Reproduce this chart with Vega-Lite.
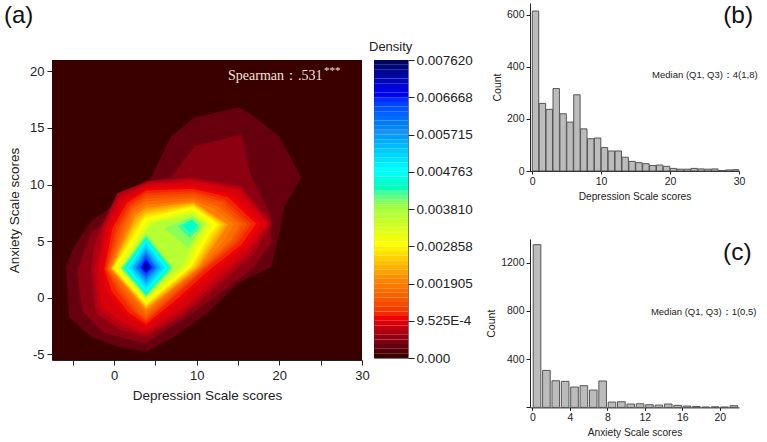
{"$schema":"https://vega.github.io/schema/vega-lite/v6.json","padding":{"left":3,"top":3,"right":0,"bottom":0},"background":"white","bounds":"flush","spacing":478,
"config":{"view":{"stroke":null},"font":"Liberation Sans","axis":{"grid":false,"domainColor":"#222","tickColor":"#222","labelColor":"#222","titleColor":"#222","titleFontWeight":"normal","labelFont":"Liberation Sans","titleFont":"Liberation Sans"}},
"datasets":{"contours":[
{"ring":0,"level":0,"v":1,"x":-7.5,"y":-5.5},{"ring":0,"level":0,"v":2,"x":30,"y":-5.5},{"ring":0,"level":0,"v":3,"x":30,"y":21},{"ring":0,"level":0,"v":4,"x":-7.5,"y":21},
{"ring":1,"level":0.00025,"v":1,"x":-5.82,"y":2.74},{"ring":1,"level":0.00025,"v":2,"x":-4.85,"y":4.51},{"ring":1,"level":0.00025,"v":3,"x":-2.79,"y":6.73},{"ring":1,"level":0.00025,"v":4,"x":0.48,"y":8.41},{"ring":1,"level":0.00025,"v":5,"x":3.64,"y":10.18},{"ring":1,"level":0.00025,"v":6,"x":4.48,"y":10.62},{"ring":1,"level":0.00025,"v":7,"x":6.91,"y":14.25},{"ring":1,"level":0.00025,"v":8,"x":9.7,"y":15.93},{"ring":1,"level":0.00025,"v":9,"x":15.03,"y":16.81},{"ring":1,"level":0.00025,"v":10,"x":16.61,"y":16.19},{"ring":1,"level":0.00025,"v":11,"x":20,"y":14.25},{"ring":1,"level":0.00025,"v":12,"x":22.67,"y":10.62},{"ring":1,"level":0.00025,"v":13,"x":20.61,"y":8.05},{"ring":1,"level":0.00025,"v":14,"x":20,"y":5.75},{"ring":1,"level":0.00025,"v":15,"x":19.03,"y":2.74},{"ring":1,"level":0.00025,"v":16,"x":17.58,"y":2.21},{"ring":1,"level":0.00025,"v":17,"x":15.03,"y":1.33},{"ring":1,"level":0.00025,"v":18,"x":11.39,"y":-1.33},{"ring":1,"level":0.00025,"v":19,"x":7.27,"y":-3.45},{"ring":1,"level":0.00025,"v":20,"x":3.88,"y":-4.78},{"ring":1,"level":0.00025,"v":21,"x":0.48,"y":-4.34},{"ring":1,"level":0.00025,"v":22,"x":-2.79,"y":-3.45},{"ring":1,"level":0.00025,"v":23,"x":-5.45,"y":-1.68},
{"ring":2,"level":0.00045,"v":1,"x":-4.41,"y":2.48},{"ring":2,"level":0.00045,"v":2,"x":-4.2,"y":0.71},{"ring":2,"level":0.00045,"v":3,"x":-3.8,"y":-1.21},{"ring":2,"level":0.00045,"v":4,"x":-1.17,"y":-3.13},{"ring":2,"level":0.00045,"v":5,"x":3.88,"y":-4.02},{"ring":2,"level":0.00045,"v":6,"x":6.91,"y":-2.54},{"ring":2,"level":0.00045,"v":7,"x":10.14,"y":-1.07},{"ring":2,"level":0.00045,"v":8,"x":14.99,"y":1.59},{"ring":2,"level":0.00045,"v":9,"x":17,"y":2.77},{"ring":2,"level":0.00045,"v":10,"x":19.03,"y":4.83},{"ring":2,"level":0.00045,"v":11,"x":19.03,"y":7.2},{"ring":2,"level":0.00045,"v":12,"x":16.6,"y":10.74},{"ring":2,"level":0.00045,"v":13,"x":15.39,"y":14.42},{"ring":2,"level":0.00045,"v":14,"x":9.73,"y":13.39},{"ring":2,"level":0.00045,"v":15,"x":6.91,"y":10.59},{"ring":2,"level":0.00045,"v":16,"x":4.08,"y":10.29},{"ring":2,"level":0.00045,"v":17,"x":-1.17,"y":6.6},{"ring":2,"level":0.00045,"v":18,"x":-2.79,"y":5.72},
{"ring":3,"level":0.00062,"v":1,"x":-2.79,"y":2.48},{"ring":3,"level":0.00062,"v":2,"x":-2.18,"y":-1.36},{"ring":3,"level":0.00062,"v":3,"x":0.85,"y":-2.84},{"ring":3,"level":0.00062,"v":4,"x":3.88,"y":-3.43},{"ring":3,"level":0.00062,"v":5,"x":8.12,"y":-1.66},{"ring":3,"level":0.00062,"v":6,"x":13.37,"y":1.59},{"ring":3,"level":0.00062,"v":7,"x":17,"y":3.95},{"ring":3,"level":0.00062,"v":8,"x":19.03,"y":6.6},{"ring":3,"level":0.00062,"v":9,"x":15.39,"y":9.85},{"ring":3,"level":0.00062,"v":10,"x":9.53,"y":10.59},{"ring":3,"level":0.00062,"v":11,"x":4.08,"y":10.29},{"ring":3,"level":0.00062,"v":12,"x":0.44,"y":9.26},{"ring":3,"level":0.00062,"v":13,"x":-1.38,"y":6.46},{"ring":3,"level":0.00062,"v":14,"x":-2.38,"y":4.54},
{"ring":3.5,"level":0.00072,"v":1,"x":-2.38,"y":2.48},{"ring":3.5,"level":0.00072,"v":2,"x":-1.88,"y":-1.06},{"ring":3.5,"level":0.00072,"v":3,"x":1.05,"y":-2.54},{"ring":3.5,"level":0.00072,"v":4,"x":3.88,"y":-3.2},{"ring":3.5,"level":0.00072,"v":5,"x":8.12,"y":-1.36},{"ring":3.5,"level":0.00072,"v":6,"x":12.96,"y":1.74},{"ring":3.5,"level":0.00072,"v":7,"x":16.6,"y":4.1},{"ring":3.5,"level":0.00072,"v":8,"x":18.82,"y":6.57},{"ring":3.5,"level":0.00072,"v":9,"x":15.19,"y":9.7},{"ring":3.5,"level":0.00072,"v":10,"x":9.53,"y":10.44},{"ring":3.5,"level":0.00072,"v":11,"x":4.08,"y":10.15},{"ring":3.5,"level":0.00072,"v":12,"x":0.65,"y":9.04},{"ring":3.5,"level":0.00072,"v":13,"x":-1.17,"y":6.38},
{"ring":4,"level":0.00083,"v":1,"x":-1.98,"y":2.48},{"ring":4,"level":0.00083,"v":2,"x":-1.58,"y":-0.77},{"ring":4,"level":0.00083,"v":3,"x":1.25,"y":-2.25},{"ring":4,"level":0.00083,"v":4,"x":3.88,"y":-2.98},{"ring":4,"level":0.00083,"v":5,"x":8.12,"y":-1.07},{"ring":4,"level":0.00083,"v":6,"x":12.56,"y":1.89},{"ring":4,"level":0.00083,"v":7,"x":16.2,"y":4.25},{"ring":4,"level":0.00083,"v":8,"x":18.62,"y":6.55},{"ring":4,"level":0.00083,"v":9,"x":14.99,"y":9.56},{"ring":4,"level":0.00083,"v":10,"x":9.53,"y":10.29},{"ring":4,"level":0.00083,"v":11,"x":4.08,"y":10},{"ring":4,"level":0.00083,"v":12,"x":0.85,"y":8.82},{"ring":4,"level":0.00083,"v":13,"x":-0.97,"y":6.31},
{"ring":5,"level":0.00095,"v":1,"x":-1.38,"y":2.53},{"ring":5,"level":0.00095,"v":2,"x":-0.77,"y":0.41},{"ring":5,"level":0.00095,"v":3,"x":1.65,"y":-1.66},{"ring":5,"level":0.00095,"v":4,"x":3.88,"y":-2.54},{"ring":5,"level":0.00095,"v":5,"x":7.71,"y":-0.48},{"ring":5,"level":0.00095,"v":6,"x":11.75,"y":2.18},{"ring":5,"level":0.00095,"v":7,"x":15.79,"y":4.54},{"ring":5,"level":0.00095,"v":8,"x":17.81,"y":6.55},{"ring":5,"level":0.00095,"v":9,"x":14.18,"y":9.11},{"ring":5,"level":0.00095,"v":10,"x":9.53,"y":9.85},{"ring":5,"level":0.00095,"v":11,"x":3.88,"y":9.7},{"ring":5,"level":0.00095,"v":12,"x":1.25,"y":8.52},{"ring":5,"level":0.00095,"v":13,"x":-0.57,"y":6.16},
{"ring":5.5,"level":0.00107,"v":1,"x":-1.17,"y":2.53},{"ring":5.5,"level":0.00107,"v":2,"x":-0.27,"y":0.56},{"ring":5.5,"level":0.00107,"v":3,"x":1.85,"y":-1.36},{"ring":5.5,"level":0.00107,"v":4,"x":3.88,"y":-2.32},{"ring":5.5,"level":0.00107,"v":5,"x":7.51,"y":-0.18},{"ring":5.5,"level":0.00107,"v":6,"x":11.35,"y":2.33},{"ring":5.5,"level":0.00107,"v":7,"x":15.39,"y":4.68},{"ring":5.5,"level":0.00107,"v":8,"x":17.2,"y":6.53},{"ring":5.5,"level":0.00107,"v":9,"x":13.77,"y":8.89},{"ring":5.5,"level":0.00107,"v":10,"x":9.57,"y":9.63},{"ring":5.5,"level":0.00107,"v":11,"x":3.88,"y":9.48},{"ring":5.5,"level":0.00107,"v":12,"x":1.55,"y":8.37},{"ring":5.5,"level":0.00107,"v":13,"x":-0.17,"y":6.16},
{"ring":6,"level":0.0012,"v":1,"x":-0.97,"y":2.53},{"ring":6,"level":0.0012,"v":2,"x":0.24,"y":0.71},{"ring":6,"level":0.0012,"v":3,"x":2.06,"y":-1.07},{"ring":6,"level":0.0012,"v":4,"x":3.88,"y":-2.1},{"ring":6,"level":0.0012,"v":5,"x":7.31,"y":0.12},{"ring":6,"level":0.0012,"v":6,"x":10.95,"y":2.48},{"ring":6,"level":0.0012,"v":7,"x":14.99,"y":4.83},{"ring":6,"level":0.0012,"v":8,"x":16.6,"y":6.52},{"ring":6,"level":0.0012,"v":9,"x":13.37,"y":8.67},{"ring":6,"level":0.0012,"v":10,"x":9.61,"y":9.41},{"ring":6,"level":0.0012,"v":11,"x":3.88,"y":9.26},{"ring":6,"level":0.0012,"v":12,"x":1.86,"y":8.23},{"ring":6,"level":0.0012,"v":13,"x":0.24,"y":6.16},
{"ring":6.3,"level":0.00135,"v":1,"x":-0.86,"y":2.53},{"ring":6.3,"level":0.00135,"v":2,"x":0.5,"y":0.75},{"ring":6.3,"level":0.00135,"v":3,"x":2.6,"y":-1.2},{"ring":6.3,"level":0.00135,"v":4,"x":3.88,"y":-1.95},{"ring":6.3,"level":0.00135,"v":5,"x":7.25,"y":0.25},{"ring":6.3,"level":0.00135,"v":6,"x":10.8,"y":2.53},{"ring":6.3,"level":0.00135,"v":7,"x":14.7,"y":4.93},{"ring":6.3,"level":0.00135,"v":8,"x":16.1,"y":6.5},{"ring":6.3,"level":0.00135,"v":9,"x":13.1,"y":8.5},{"ring":6.3,"level":0.00135,"v":10,"x":9.61,"y":9.2},{"ring":6.3,"level":0.00135,"v":11,"x":3.88,"y":9},{"ring":6.3,"level":0.00135,"v":12,"x":2,"y":8.05},{"ring":6.3,"level":0.00135,"v":13,"x":0.6,"y":6.2},
{"ring":6.6,"level":0.0015,"v":1,"x":-0.75,"y":2.53},{"ring":6.6,"level":0.0015,"v":2,"x":0.8,"y":0.8},{"ring":6.6,"level":0.0015,"v":3,"x":3.2,"y":-1.4},{"ring":6.6,"level":0.0015,"v":4,"x":3.88,"y":-1.75},{"ring":6.6,"level":0.0015,"v":5,"x":7.2,"y":0.4},{"ring":6.6,"level":0.0015,"v":6,"x":10.7,"y":2.58},{"ring":6.6,"level":0.0015,"v":7,"x":14.4,"y":5.03},{"ring":6.6,"level":0.0015,"v":8,"x":15.6,"y":6.5},{"ring":6.6,"level":0.0015,"v":9,"x":12.8,"y":8.3},{"ring":6.6,"level":0.0015,"v":10,"x":9.61,"y":9},{"ring":6.6,"level":0.0015,"v":11,"x":3.88,"y":8.75},{"ring":6.6,"level":0.0015,"v":12,"x":2.15,"y":7.9},{"ring":6.6,"level":0.0015,"v":13,"x":0.95,"y":6.25},
{"ring":7,"level":0.00167,"v":1,"x":-0.65,"y":2.53},{"ring":7,"level":0.00167,"v":2,"x":1.05,"y":0.85},{"ring":7,"level":0.00167,"v":3,"x":3.88,"y":-1.51},{"ring":7,"level":0.00167,"v":4,"x":7.11,"y":0.56},{"ring":7,"level":0.00167,"v":5,"x":10.54,"y":2.62},{"ring":7,"level":0.00167,"v":6,"x":14.18,"y":5.13},{"ring":7,"level":0.00167,"v":7,"x":15.19,"y":6.49},{"ring":7,"level":0.00167,"v":8,"x":12.56,"y":8.08},{"ring":7,"level":0.00167,"v":9,"x":9.61,"y":8.82},{"ring":7,"level":0.00167,"v":10,"x":3.88,"y":8.52},{"ring":7,"level":0.00167,"v":11,"x":2.26,"y":7.79},{"ring":7,"level":0.00167,"v":12,"x":1.25,"y":6.31},
{"ring":7.5,"level":0.0019,"v":1,"x":-0.5,"y":2.56},{"ring":7.5,"level":0.0019,"v":2,"x":3.88,"y":-1.26},{"ring":7.5,"level":0.0019,"v":3,"x":7,"y":0.7},{"ring":7.5,"level":0.0019,"v":4,"x":10.34,"y":2.62},{"ring":7.5,"level":0.0019,"v":5,"x":13.4,"y":5.13},{"ring":7.5,"level":0.0019,"v":6,"x":14.5,"y":6.49},{"ring":7.5,"level":0.0019,"v":7,"x":12,"y":7.9},{"ring":7.5,"level":0.0019,"v":8,"x":9.61,"y":8.62},{"ring":7.5,"level":0.0019,"v":9,"x":3.88,"y":8.22},{"ring":7.5,"level":0.0019,"v":10,"x":2.46,"y":7.56},{"ring":7.5,"level":0.0019,"v":11,"x":1.55,"y":6.23},
{"ring":8,"level":0.00214,"v":1,"x":-0.37,"y":2.59},{"ring":8,"level":0.00214,"v":2,"x":3.88,"y":-1.01},{"ring":8,"level":0.00214,"v":3,"x":10.14,"y":2.62},{"ring":8,"level":0.00214,"v":4,"x":12.56,"y":5.13},{"ring":8,"level":0.00214,"v":5,"x":13.77,"y":6.49},{"ring":8,"level":0.00214,"v":6,"x":9.61,"y":8.43},{"ring":8,"level":0.00214,"v":7,"x":3.88,"y":7.93},{"ring":8,"level":0.00214,"v":8,"x":2.66,"y":7.34},{"ring":8,"level":0.00214,"v":9,"x":1.86,"y":6.16},
{"ring":8.5,"level":0.00232,"v":1,"x":-0.31,"y":2.59},{"ring":8.5,"level":0.00232,"v":2,"x":3.88,"y":-0.89},{"ring":8.5,"level":0.00232,"v":3,"x":9.93,"y":2.66},{"ring":8.5,"level":0.00232,"v":4,"x":12.36,"y":5.28},{"ring":8.5,"level":0.00232,"v":5,"x":13.47,"y":6.49},{"ring":8.5,"level":0.00232,"v":6,"x":9.61,"y":8.33},{"ring":8.5,"level":0.00232,"v":7,"x":3.88,"y":7.71},{"ring":8.5,"level":0.00232,"v":8,"x":2.66,"y":6.97},
{"ring":9,"level":0.0025,"v":1,"x":-0.25,"y":2.59},{"ring":9,"level":0.0025,"v":2,"x":3.88,"y":-0.77},{"ring":9,"level":0.0025,"v":3,"x":9.73,"y":2.71},{"ring":9,"level":0.0025,"v":4,"x":12.16,"y":5.43},{"ring":9,"level":0.0025,"v":5,"x":13.17,"y":6.49},{"ring":9,"level":0.0025,"v":6,"x":9.61,"y":8.23},{"ring":9,"level":0.0025,"v":7,"x":3.88,"y":7.49},{"ring":9,"level":0.0025,"v":8,"x":2.66,"y":6.6},
{"ring":9.5,"level":0.00268,"v":1,"x":-0.14,"y":2.6},{"ring":9.5,"level":0.00268,"v":2,"x":3.88,"y":-0.66},{"ring":9.5,"level":0.00268,"v":3,"x":9.53,"y":2.74},{"ring":9.5,"level":0.00268,"v":4,"x":11.85,"y":5.5},{"ring":9.5,"level":0.00268,"v":5,"x":12.86,"y":6.49},{"ring":9.5,"level":0.00268,"v":6,"x":9.61,"y":8.12},{"ring":9.5,"level":0.00268,"v":7,"x":3.78,"y":7.27},{"ring":9.5,"level":0.00268,"v":8,"x":2.76,"y":6.3},
{"ring":10,"level":0.00286,"v":1,"x":-0.04,"y":2.62},{"ring":10,"level":0.00286,"v":2,"x":3.88,"y":-0.56},{"ring":10,"level":0.00286,"v":3,"x":9.33,"y":2.77},{"ring":10,"level":0.00286,"v":4,"x":11.55,"y":5.57},{"ring":10,"level":0.00286,"v":5,"x":12.56,"y":6.49},{"ring":10,"level":0.00286,"v":6,"x":9.61,"y":8.02},{"ring":10,"level":0.00286,"v":7,"x":3.67,"y":7.05},{"ring":10,"level":0.00286,"v":8,"x":2.87,"y":6.02},
{"ring":10.5,"level":0.00303,"v":1,"x":0.2,"y":2.62},{"ring":10.5,"level":0.00303,"v":2,"x":3.88,"y":-0.37},{"ring":10.5,"level":0.00303,"v":3,"x":9.02,"y":2.77},{"ring":10.5,"level":0.00303,"v":4,"x":11.25,"y":5.65},{"ring":10.5,"level":0.00303,"v":5,"x":12.05,"y":6.5},{"ring":10.5,"level":0.00303,"v":6,"x":9.57,"y":7.83},{"ring":10.5,"level":0.00303,"v":7,"x":3.97,"y":6.9},{"ring":10.5,"level":0.00303,"v":8,"x":3.38,"y":6.16},
{"ring":11,"level":0.0032,"v":1,"x":0.44,"y":2.62},{"ring":11,"level":0.0032,"v":2,"x":3.88,"y":-0.18},{"ring":11,"level":0.0032,"v":3,"x":8.72,"y":2.77},{"ring":11,"level":0.0032,"v":4,"x":10.95,"y":5.72},{"ring":11,"level":0.0032,"v":5,"x":11.55,"y":6.52},{"ring":11,"level":0.0032,"v":6,"x":9.53,"y":7.64},{"ring":11,"level":0.0032,"v":7,"x":4.28,"y":6.75},{"ring":11,"level":0.0032,"v":8,"x":3.88,"y":6.31},
{"ring":11.5,"level":0.0034,"v":1,"x":0.75,"y":2.62},{"ring":11.5,"level":0.0034,"v":2,"x":3.88,"y":0.04},{"ring":11.5,"level":0.0034,"v":3,"x":8.42,"y":2.77},{"ring":11.5,"level":0.0034,"v":4,"x":10.55,"y":5.72},{"ring":11.5,"level":0.0034,"v":5,"x":11.35,"y":6.49},{"ring":11.5,"level":0.0034,"v":6,"x":9.53,"y":7.49},{"ring":11.5,"level":0.0034,"v":7,"x":4.58,"y":6.67},{"ring":11.5,"level":0.0034,"v":8,"x":3.88,"y":6.09},
{"ring":12,"level":0.0036,"v":1,"x":1.05,"y":2.62},{"ring":12,"level":0.0036,"v":2,"x":3.88,"y":0.26},{"ring":12,"level":0.0036,"v":3,"x":8.12,"y":2.77},{"ring":12,"level":0.0036,"v":4,"x":10.14,"y":5.72},{"ring":12,"level":0.0036,"v":5,"x":11.15,"y":6.46},{"ring":12,"level":0.0036,"v":6,"x":9.53,"y":7.34},{"ring":12,"level":0.0036,"v":7,"x":4.89,"y":6.6},{"ring":12,"level":0.0036,"v":8,"x":3.88,"y":5.87},
{"ring":13,"level":0.0039,"v":1,"x":6.1,"y":6.16},{"ring":13,"level":0.0039,"v":2,"x":8.93,"y":4.39},{"ring":13,"level":0.0039,"v":3,"x":10.54,"y":6.02},{"ring":13,"level":0.0039,"v":4,"x":10.74,"y":6.46},{"ring":13,"level":0.0039,"v":5,"x":9.53,"y":7.2},
{"ring":14,"level":0.0042,"v":1,"x":7.71,"y":6.31},{"ring":14,"level":0.0042,"v":2,"x":9.13,"y":5.28},{"ring":14,"level":0.0042,"v":3,"x":10.34,"y":6.16},{"ring":14,"level":0.0042,"v":4,"x":9.53,"y":6.96},
{"ring":15,"level":0.0044,"v":1,"x":8.32,"y":6.37},{"ring":15,"level":0.0044,"v":2,"x":9.21,"y":5.72},{"ring":15,"level":0.0044,"v":3,"x":10.14,"y":6.37},{"ring":15,"level":0.0044,"v":4,"x":9.33,"y":6.9},
{"ring":16,"level":0.0041,"v":1,"x":0.85,"y":2.59},{"ring":16,"level":0.0041,"v":2,"x":3.88,"y":0.06},{"ring":16,"level":0.0041,"v":3,"x":7.11,"y":2.62},{"ring":16,"level":0.0041,"v":4,"x":3.88,"y":5.57},
{"ring":16.5,"level":0.0044,"v":1,"x":1.15,"y":2.6},{"ring":16.5,"level":0.0044,"v":2,"x":3.88,"y":0.26},{"ring":16.5,"level":0.0044,"v":3,"x":6.8,"y":2.63},{"ring":16.5,"level":0.0044,"v":4,"x":3.88,"y":5.35},
{"ring":17,"level":0.00476,"v":1,"x":1.45,"y":2.62},{"ring":17,"level":0.00476,"v":2,"x":3.88,"y":0.47},{"ring":17,"level":0.00476,"v":3,"x":6.5,"y":2.65},{"ring":17,"level":0.00476,"v":4,"x":3.88,"y":5.13},
{"ring":17.5,"level":0.005,"v":1,"x":1.75,"y":2.62},{"ring":17.5,"level":0.005,"v":2,"x":3.88,"y":0.74},{"ring":17.5,"level":0.005,"v":3,"x":6.2,"y":2.65},{"ring":17.5,"level":0.005,"v":4,"x":3.88,"y":4.87},
{"ring":18,"level":0.0052,"v":1,"x":2.06,"y":2.62},{"ring":18,"level":0.0052,"v":2,"x":3.88,"y":1},{"ring":18,"level":0.0052,"v":3,"x":5.9,"y":2.65},{"ring":18,"level":0.0052,"v":4,"x":3.88,"y":4.6},
{"ring":18.5,"level":0.00546,"v":1,"x":2.26,"y":2.63},{"ring":18.5,"level":0.00546,"v":2,"x":3.88,"y":1.22},{"ring":18.5,"level":0.00546,"v":3,"x":5.63,"y":2.65},{"ring":18.5,"level":0.00546,"v":4,"x":3.88,"y":4.4},
{"ring":19,"level":0.00572,"v":1,"x":2.46,"y":2.65},{"ring":19,"level":0.00572,"v":2,"x":3.88,"y":1.44},{"ring":19,"level":0.00572,"v":3,"x":5.37,"y":2.65},{"ring":19,"level":0.00572,"v":4,"x":3.88,"y":4.19},
{"ring":19.5,"level":0.00596,"v":1,"x":2.66,"y":2.65},{"ring":19.5,"level":0.00596,"v":2,"x":3.88,"y":1.63},{"ring":19.5,"level":0.00596,"v":3,"x":5.17,"y":2.65},{"ring":19.5,"level":0.00596,"v":4,"x":3.88,"y":4},
{"ring":20,"level":0.0062,"v":1,"x":2.87,"y":2.65},{"ring":20,"level":0.0062,"v":2,"x":3.88,"y":1.83},{"ring":20,"level":0.0062,"v":3,"x":4.97,"y":2.65},{"ring":20,"level":0.0062,"v":4,"x":3.88,"y":3.8},
{"ring":20.5,"level":0.00643,"v":1,"x":3.07,"y":2.65},{"ring":20.5,"level":0.00643,"v":2,"x":3.88,"y":2},{"ring":20.5,"level":0.00643,"v":3,"x":4.76,"y":2.65},{"ring":20.5,"level":0.00643,"v":4,"x":3.88,"y":3.6},
{"ring":21,"level":0.00667,"v":1,"x":3.27,"y":2.65},{"ring":21,"level":0.00667,"v":2,"x":3.88,"y":2.18},{"ring":21,"level":0.00667,"v":3,"x":4.56,"y":2.65},{"ring":21,"level":0.00667,"v":4,"x":3.88,"y":3.42},
{"ring":21.5,"level":0.00695,"v":1,"x":3.41,"y":2.65},{"ring":21.5,"level":0.00695,"v":2,"x":3.88,"y":2.3},{"ring":21.5,"level":0.00695,"v":3,"x":4.4,"y":2.65},{"ring":21.5,"level":0.00695,"v":4,"x":3.88,"y":3.25},
{"ring":22,"level":0.0072,"v":1,"x":3.55,"y":2.65},{"ring":22,"level":0.0072,"v":2,"x":3.88,"y":2.42},{"ring":22,"level":0.0072,"v":3,"x":4.24,"y":2.65},{"ring":22,"level":0.0072,"v":4,"x":3.88,"y":3.07}
],
"bands":[{"lo":0,"hi":0.000119},{"lo":0.000119,"hi":0.000238},{"lo":0.000238,"hi":0.000357},{"lo":0.000357,"hi":0.000476},{"lo":0.000476,"hi":0.000595},{"lo":0.000595,"hi":0.000714},{"lo":0.000714,"hi":0.000833},{"lo":0.000833,"hi":0.000953},{"lo":0.000953,"hi":0.001072},{"lo":0.001072,"hi":0.001191},{"lo":0.001191,"hi":0.00131},{"lo":0.00131,"hi":0.001429},{"lo":0.001429,"hi":0.001548},{"lo":0.001548,"hi":0.001667},{"lo":0.001667,"hi":0.001786},{"lo":0.001786,"hi":0.001905},{"lo":0.001905,"hi":0.002024},{"lo":0.002024,"hi":0.002143},{"lo":0.002143,"hi":0.002262},{"lo":0.002262,"hi":0.002381},{"lo":0.002381,"hi":0.0025},{"lo":0.0025,"hi":0.002619},{"lo":0.002619,"hi":0.002738},{"lo":0.002738,"hi":0.002858},{"lo":0.002858,"hi":0.002977},{"lo":0.002977,"hi":0.003096},{"lo":0.003096,"hi":0.003215},{"lo":0.003215,"hi":0.003334},{"lo":0.003334,"hi":0.003453},{"lo":0.003453,"hi":0.003572},{"lo":0.003572,"hi":0.003691},{"lo":0.003691,"hi":0.00381},{"lo":0.00381,"hi":0.003929},{"lo":0.003929,"hi":0.004048},{"lo":0.004048,"hi":0.004167},{"lo":0.004167,"hi":0.004286},{"lo":0.004286,"hi":0.004405},{"lo":0.004405,"hi":0.004524},{"lo":0.004524,"hi":0.004643},{"lo":0.004643,"hi":0.004763},{"lo":0.004763,"hi":0.004882},{"lo":0.004882,"hi":0.005001},{"lo":0.005001,"hi":0.00512},{"lo":0.00512,"hi":0.005239},{"lo":0.005239,"hi":0.005358},{"lo":0.005358,"hi":0.005477},{"lo":0.005477,"hi":0.005596},{"lo":0.005596,"hi":0.005715},{"lo":0.005715,"hi":0.005834},{"lo":0.005834,"hi":0.005953},{"lo":0.005953,"hi":0.006072},{"lo":0.006072,"hi":0.006191},{"lo":0.006191,"hi":0.00631},{"lo":0.00631,"hi":0.006429},{"lo":0.006429,"hi":0.006548},{"lo":0.006548,"hi":0.006668},{"lo":0.006668,"hi":0.006787},{"lo":0.006787,"hi":0.006906},{"lo":0.006906,"hi":0.007025},{"lo":0.007025,"hi":0.007144},{"lo":0.007144,"hi":0.007263},{"lo":0.007263,"hi":0.007382},{"lo":0.007382,"hi":0.007501},{"lo":0.007501,"hi":0.00762}],
"dep":[{"s":0.5,"n":615},{"s":1.5,"n":260},{"s":2.5,"n":237},{"s":3.5,"n":317},{"s":4.5,"n":220},{"s":5.5,"n":188},{"s":6.5,"n":293},{"s":7.5,"n":162},{"s":8.5,"n":124},{"s":9.5,"n":127},{"s":10.5,"n":90},{"s":11.5,"n":77},{"s":12.5,"n":77},{"s":13.5,"n":53},{"s":14.5,"n":37},{"s":15.5,"n":32},{"s":16.5,"n":28},{"s":17.5,"n":21},{"s":18.5,"n":23},{"s":19.5,"n":18},{"s":20.5,"n":10},{"s":21.5,"n":7},{"s":22.5,"n":7},{"s":23.5,"n":10},{"s":24.5,"n":8},{"s":25.5,"n":7},{"s":26.5,"n":8},{"s":27.5,"n":2},{"s":28.5,"n":4},{"s":29.5,"n":5}],
"anx":[{"s":0.5,"n":1350},{"s":1.5,"n":307},{"s":2.5,"n":221},{"s":3.5,"n":216},{"s":4.5,"n":169},{"s":5.5,"n":180},{"s":6.5,"n":144},{"s":7.5,"n":219},{"s":8.5,"n":44},{"s":9.5,"n":47},{"s":10.5,"n":28},{"s":11.5,"n":30},{"s":12.5,"n":22},{"s":13.5,"n":19},{"s":14.5,"n":28},{"s":15.5,"n":17},{"s":16.5,"n":11},{"s":17.5,"n":8},{"s":18.5,"n":3},{"s":19.5,"n":5},{"s":20.5,"n":3},{"s":21.5,"n":14}]},
"hconcat":[
{"bounds":"flush","spacing":0,"vconcat":[
{"width":356,"height":57,"data":{"values":[{"t":"(a)","px":-0.135,"py":0.78}]},"mark":{"type":"text","align":"left","baseline":"middle","fontSize":24,"font":"Liberation Sans","color":"#111","clip":false},"encoding":{"x":{"field":"px","type":"quantitative","scale":{"domain":[0,1]},"axis":null},"y":{"field":"py","type":"quantitative","scale":{"domain":[0,1]},"axis":null},"text":{"field":"t"}}},
{"bounds":"flush","spacing":12,"hconcat":[
{"width":310,"height":300,"layer":[
{"data":{"name":"contours"},"mark":{"type":"line","interpolate":"linear-closed","strokeWidth":0,"clip":true},"encoding":{"x":{"field":"x","type":"quantitative","scale":{"domain":[-7.5,30],"nice":false,"zero":false},"axis":{"values":[-5,0,5,10,15,20,25,30],"labelOverlap":false,"title":"Depression Scale scores","titleFontSize":13.5,"titlePadding":6,"labelFontSize":13,"labelPadding":4,"labelFlush":false,"tickSize":5,"labelExpr":"datum.value%10==0?datum.value+'':''"}},"y":{"field":"y","type":"quantitative","scale":{"domain":[-5.5,21],"nice":false,"zero":false},"axis":{"values":[-5,-2.5,0,2.5,5,7.5,10,12.5,15,17.5,20],"labelOverlap":false,"title":"Anxiety Scale scores","titleFontSize":13.5,"titlePadding":8,"labelFontSize":13,"labelPadding":3,"tickSize":{"condition":{"test":"datum.value%5==0","value":5},"value":3},"labelExpr":"datum.value%5==0?datum.value+'':''"}},"detail":{"field":"ring","type":"nominal"},"order":{"field":"v","type":"quantitative"},"fill":{"field":"level","type":"quantitative","legend":null,"scale":{"domain":[0,0.00095,0.0019,0.00286,0.00381,0.00476,0.00572,0.00667,0.00762],"range":["#3a0000","#f00000","#ff8000","#ffff00","#a0ff40","#00ffff","#1e90f0","#0000ff","#000050"]}}}},
{"data":{"values":[{"x":13.8,"y":19.56,"t":"Spearman：.531"}]},"mark":{"type":"text","align":"left","baseline":"middle","font":"Liberation Serif","fontSize":14,"color":"#efe6da"},"encoding":{"x":{"field":"x","type":"quantitative"},"y":{"field":"y","type":"quantitative"},"text":{"field":"t"}}},
{"data":{"values":[{"x":25.4,"y":20,"t":"***"}]},"mark":{"type":"text","align":"left","baseline":"middle","font":"Liberation Serif","fontSize":11,"color":"#efe6da"},"encoding":{"x":{"field":"x","type":"quantitative"},"y":{"field":"y","type":"quantitative"},"text":{"field":"t"}}}
]},
{"width":34,"height":298,"view":{"stroke":"#777"},"title":{"text":"Density","fontSize":13,"fontWeight":"normal","font":"Liberation Sans","color":"#222","anchor":"start","offset":-1,"dx":-5},"data":{"name":"bands"},"mark":{"type":"rect"},"encoding":{"y":{"field":"lo","type":"quantitative","scale":{"domain":[0,0.00762],"nice":false,"zero":false},"axis":{"orient":"right","title":null,"domain":false,"values":[0,0.0009525,0.001905,0.002858,0.00381,0.004763,0.005715,0.006668,0.00762],"labelOverlap":false,"tickSize":6,"labelFontSize":13.5,"labelPadding":2,"labelFlush":false,"labelExpr":"datum.value==0?'0.000':datum.value<0.001?'9.525E-4':format(datum.value,'.6f')"}},"y2":{"field":"hi"},"fill":{"field":"lo","type":"quantitative","legend":null,"scale":{"domain":[0,0.00095,0.0019,0.00286,0.00381,0.00476,0.00572,0.00667,0.00762],"range":["#3a0000","#f00000","#ff8000","#ffff00","#a0ff40","#00ffff","#1e90f0","#0000ff","#000050"]}}}}
]}
]},
{"bounds":"flush","spacing":68,"vconcat":[
{"width":209,"height":168,"layer":[
{"data":{"name":"dep"},"mark":{"type":"bar","width":6.4,"fill":"#bcbcbc","stroke":"#555","strokeWidth":1},"encoding":{"x":{"field":"s","type":"quantitative","scale":{"domain":[-0.3,30],"nice":false,"zero":false,"padding":0},"axis":{"values":[0,2.5,5,7.5,10,12.5,15,17.5,20,22.5,25,27.5,30],"labelOverlap":false,"title":"Depression Scale scores","titleFontSize":10.2,"titlePadding":5,"labelFontSize":10.5,"labelPadding":2,"labelFlush":false,"tickSize":{"condition":{"test":"datum.value%5==0","value":3},"value":2},"labelExpr":"datum.value%5==0?datum.value+'':''"}},"y":{"field":"n","type":"quantitative","scale":{"domain":[0,646],"nice":false},"axis":{"values":[0,100,200,300,400,500,600],"labelOverlap":false,"title":"Count","titleFontSize":10.5,"titlePadding":4,"labelFontSize":10.5,"labelPadding":2,"tickSize":{"condition":{"test":"datum.value%200==0","value":4},"value":2},"labelExpr":"datum.value%200==0?datum.value+'':''"}}}},
{"data":{"values":[{"x":17.4,"y":369,"t":"Median (Q1, Q3)：4(1,8)"}]},"mark":{"type":"text","align":"left","baseline":"middle","fontSize":9.5,"color":"#222"},"encoding":{"x":{"field":"x","type":"quantitative"},"y":{"field":"y","type":"quantitative"},"text":{"field":"t"}}},
{"data":{"values":[{"x":27.7,"y":596,"t":"(b)"}]},"mark":{"type":"text","align":"left","baseline":"middle","fontSize":24.5,"color":"#111"},"encoding":{"x":{"field":"x","type":"quantitative"},"y":{"field":"y","type":"quantitative"},"text":{"field":"t"}}}
]},
{"width":209,"height":168.4,"layer":[
{"data":{"name":"anx"},"mark":{"type":"bar","width":7.6,"fill":"#bcbcbc","stroke":"#555","strokeWidth":1},"encoding":{"x":{"field":"s","type":"quantitative","scale":{"domain":[-0.25,22.05],"nice":false,"zero":false,"padding":0},"axis":{"values":[0,2,4,6,8,10,12,14,16,18,20,22],"labelOverlap":false,"title":"Anxiety Scale scores","titleFontSize":10.2,"titlePadding":5,"labelFontSize":10.5,"labelPadding":2,"labelFlush":false,"tickSize":{"condition":{"test":"datum.value%4==0","value":3},"value":2},"labelExpr":"datum.value%4==0?datum.value+'':''"}},"y":{"field":"n","type":"quantitative","scale":{"domain":[0,1397],"nice":false},"axis":{"values":[0,200,400,600,800,1000,1200],"labelOverlap":false,"title":"Count","titleFontSize":10.5,"titlePadding":4,"labelFontSize":10.5,"labelPadding":2,"tickSize":{"condition":{"test":"datum.value%400==0","value":4},"value":2},"labelExpr":"datum.value>0&&datum.value%400==0?datum.value+'':''"}}}},
{"data":{"values":[{"x":12.65,"y":794,"t":"Median (Q1, Q3)：1(0,5)"}]},"mark":{"type":"text","align":"left","baseline":"middle","fontSize":9.5,"color":"#222"},"encoding":{"x":{"field":"x","type":"quantitative"},"y":{"field":"y","type":"quantitative"},"text":{"field":"t"}}},
{"data":{"values":[{"x":20.35,"y":1284,"t":"(c)"}]},"mark":{"type":"text","align":"left","baseline":"middle","fontSize":24.5,"color":"#111"},"encoding":{"x":{"field":"x","type":"quantitative"},"y":{"field":"y","type":"quantitative"},"text":{"field":"t"}}}
]}
]}
]}
